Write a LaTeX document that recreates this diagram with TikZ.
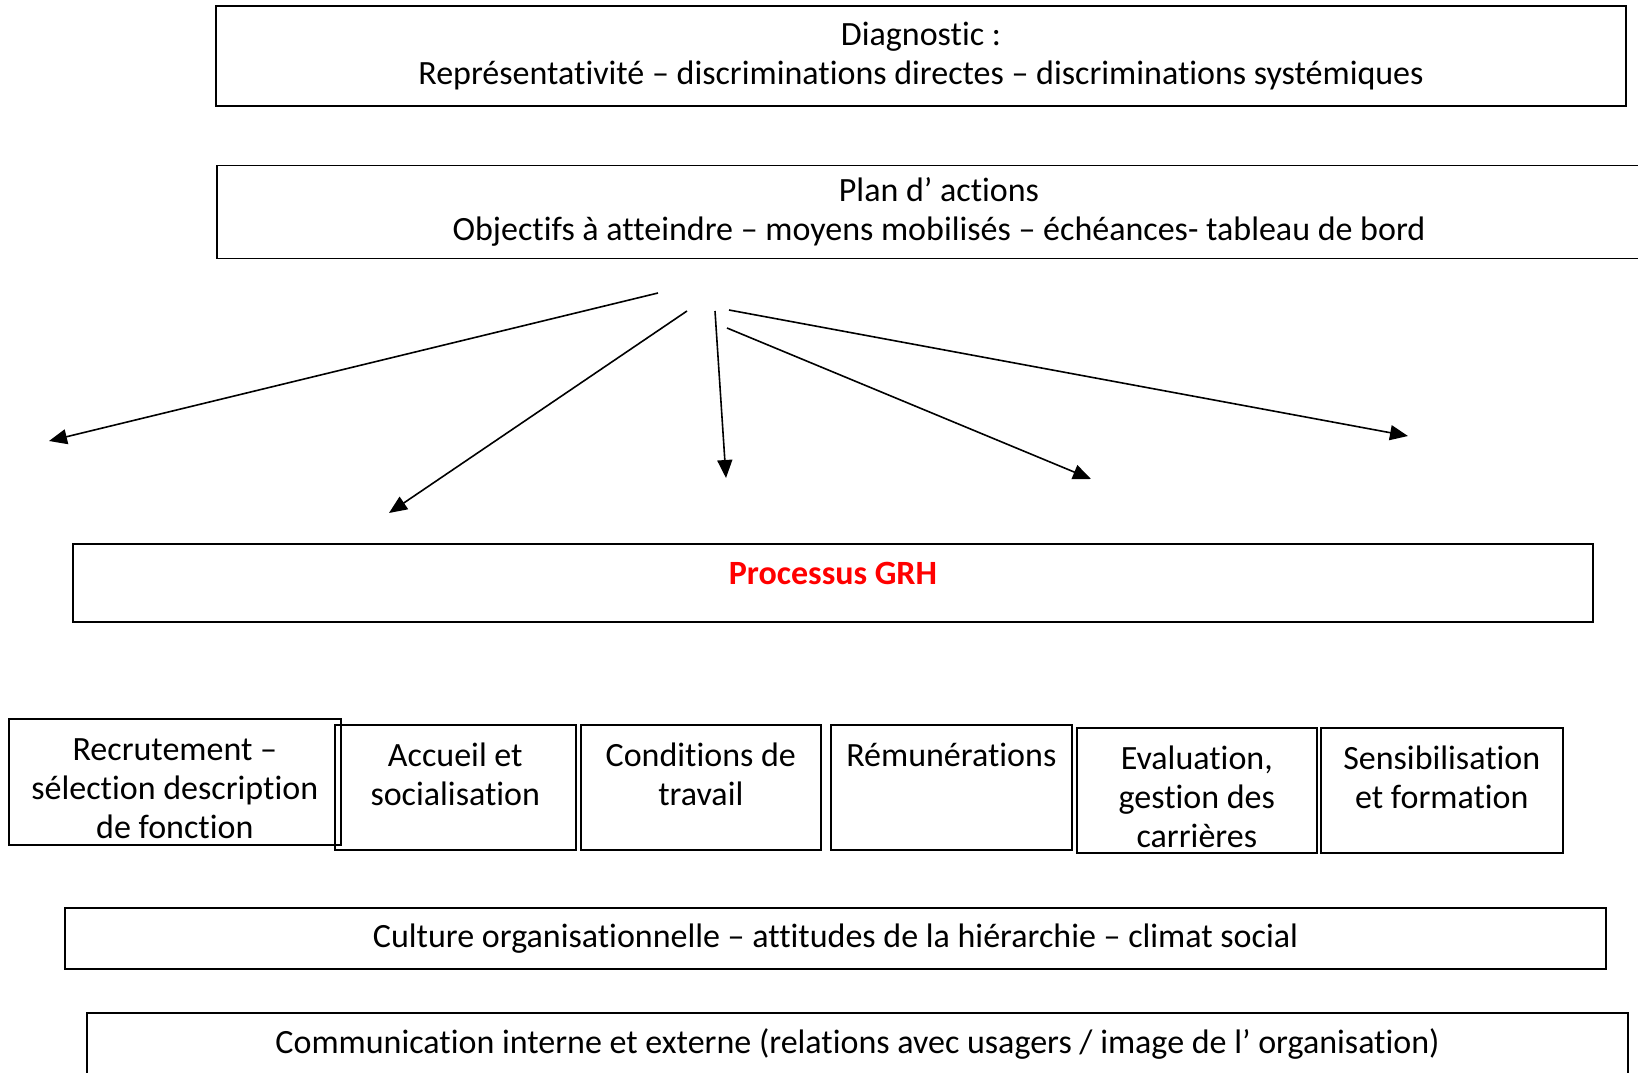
\documentclass[tikz,border=0pt]{standalone}
\usepackage{fontspec}
\setmainfont{Carlito}[Ligatures=NoCommon]
\usetikzlibrary{arrows.meta, positioning}
\newcommand{\diagfont}{\fontsize{34}{38.6}\selectfont}
\tikzset{
    bigbox/.style={rectangle, draw, line width=1.6pt, inner sep=0pt, align=center, font=\diagfont},
    stagebox/.style={bigbox, align=flush center, inner xsep=4pt, text height=42pt, text depth=83pt, anchor=north west},
    link/.style={draw, line width=1.6pt, -{Triangle[length=18pt, width=15pt]}}
}

\begin{document}
\begin{tikzpicture}[x=1pt, y=-1pt]
    \useasboundingbox (0,0) rectangle (1638,1073);
    \clip (0,0) rectangle (1638,1073);

    % Diagnostic and action plan
    \node [bigbox, minimum width=1410pt, minimum height=100pt] (diag) at (921,56)
        {Diagnostic :\\Représentativité – discriminations directes – discriminations systémiques};
    \node [bigbox, minimum width=1444pt, minimum height=93pt] (plan) at (939,212)
        {Plan d’ actions\\Objectifs à atteindre – moyens mobilisés – échéances- tableau de bord};

    % Processus GRH
    \node [bigbox, minimum width=1520pt, text height=40pt, text depth=38pt, font=\diagfont\bfseries, text=red] (grh) at (833,583) {Processus GRH};

    % Fan of arrows
    \coordinate (a1) at (658,293);  \coordinate (b1) at (49,441);
    \coordinate (a2) at (687,311);  \coordinate (b2) at (389,513);
    \coordinate (a3) at (715,311);  \coordinate (b3) at (726,478);
    \coordinate (a4) at (727,328);  \coordinate (b4) at (1091,479);
    \coordinate (a5) at (729,310);  \coordinate (b5) at (1408,436);
    \foreach \i in {1,...,5}
        \path [link] (a\i) -- (b\i);

    % HR stages
    \node [stagebox, text width=324pt, text depth=84pt] (recr) at (8,718) {Recrutement –\\sélection description\\de fonction};
    \node [stagebox, text width=233pt] (accueil) at (334,724) {Accueil et\\socialisation};
    \node [stagebox, text width=232pt] (cond) at (580,724) {Conditions de\\travail};
    \node [stagebox, text width=233pt] (remu) at (830,724) {Rémunérations};
    \node [stagebox, text width=232pt] (eval) at (1076,727) {Evaluation,\\gestion des\\carrières};
    \node [stagebox, text width=234pt] (sensi) at (1320,727) {Sensibilisation\\et formation};

    % Context
    \node [bigbox, minimum width=1541pt, minimum height=61pt] (culture) at (835.5,938.5)
        {Culture organisationnelle – attitudes de la hiérarchie – climat social};
    \node [bigbox, minimum width=1541pt, minimum height=61pt] (comm) at (857.5,1043.5)
        {Communication interne et externe (relations avec usagers / image de l’ organisation)};
\end{tikzpicture}
\end{document}
